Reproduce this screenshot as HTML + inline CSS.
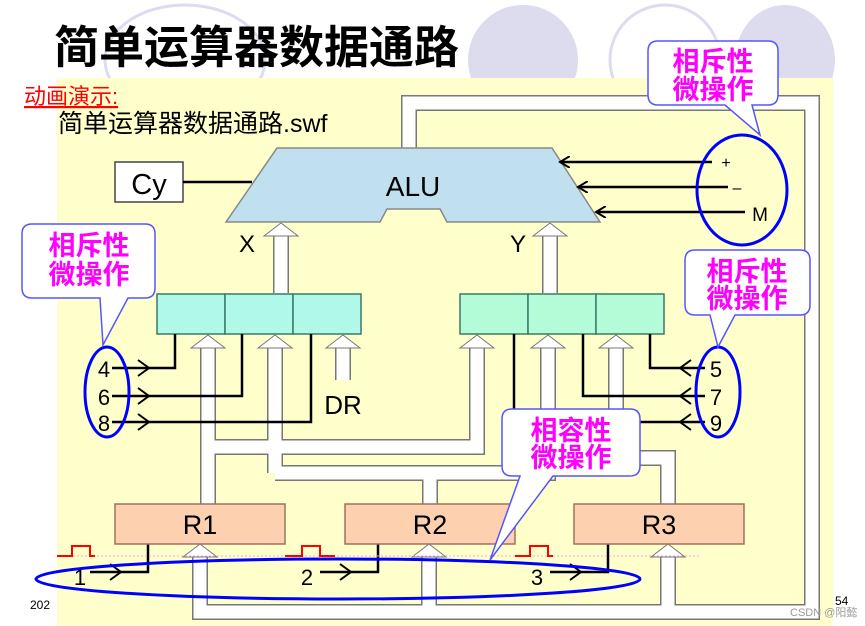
<!DOCTYPE html>
<html><head><meta charset="utf-8"><style>
html,body{margin:0;padding:0;background:#fff;}
svg{display:block;}
text{font-family:"Liberation Sans","Noto Sans CJK SC",sans-serif;}
</style></head><body>
<svg width="865" height="626" viewBox="0 0 865 626" xmlns="http://www.w3.org/2000/svg">
<defs>
<marker id="ah" markerWidth="12" markerHeight="12" refX="10" refY="6" orient="auto" markerUnits="userSpaceOnUse">
<path d="M0,0 L10,6 L0,12" fill="none" stroke="#000" stroke-width="2"/></marker>
</defs>
<ellipse cx="185" cy="60" rx="80" ry="55" fill="none" stroke="#dcdcf0" stroke-width="3"/>
<ellipse cx="523" cy="60" rx="55" ry="55" fill="#dcdcee"/>
<ellipse cx="665" cy="60" rx="55" ry="55" fill="none" stroke="#dcdcf0" stroke-width="3"/>
<ellipse cx="785" cy="60" rx="50" ry="55" fill="#dcdcee"/>
<rect x="57" y="78" width="776" height="548" fill="#ffffcc"/>
<text x="54" y="63" font-size="45" font-weight="bold" font-family="Noto Sans CJK SC,sans-serif">简单运算器数据通路</text>
<text x="24" y="104" font-size="22" fill="#f00" text-decoration="underline" font-family="Noto Sans CJK SC,sans-serif">动画演示:</text>
<text x="58" y="132" font-size="25" font-family="Liberation Sans,Noto Sans CJK SC,sans-serif">简单运算器数据通路.swf</text>

<g fill="none" stroke="#777" stroke-width="16" stroke-linejoin="miter">
<path d="M409,150 V103 H812 V612 H200 V556"/>
<path d="M429,612 V556"/><path d="M668,612 V556"/>
<path d="M208,504 V348"/><path d="M208,447 H477 V348"/>
<path d="M430,504 V473"/><path d="M275,473 H548 V348"/><path d="M275,473 V348"/>
<path d="M668,504 V458 H616 V348"/>
<path d="M281,293 V235"/><path d="M550,293 V235"/>
<path d="M343,380 V348"/>
</g>
<g fill="none" stroke="#fff" stroke-width="13" stroke-linejoin="miter">
<path d="M409,150 V103 H812 V612 H200 V556"/>
<path d="M429,612 V556"/><path d="M668,612 V556"/>
<path d="M208,504 V348"/><path d="M208,447 H477 V348"/>
<path d="M430,504 V473"/><path d="M275,473 H548 V348"/><path d="M275,473 V348"/>
<path d="M668,504 V458 H616 V348"/>
<path d="M281,293 V235"/><path d="M550,293 V235"/>
<path d="M343,380 V348"/>
</g>
<g fill="#fff" stroke="#777" stroke-width="1">
<path d="M183,557 L200,544 L217,557 Z"/><path d="M412,557 L429,544 L446,557 Z"/><path d="M651,557 L668,544 L685,557 Z"/>
<path d="M191,348 L208,335 L225,348 Z"/><path d="M258,348 L275,335 L292,348 Z"/><path d="M326,348 L343,335 L360,348 Z"/>
<path d="M460,348 L477,335 L494,348 Z"/><path d="M531,348 L548,335 L565,348 Z"/><path d="M599,348 L616,335 L633,348 Z"/>
<path d="M264,236 L281,223 L298,236 Z"/><path d="M533,236 L550,223 L567,236 Z"/>
</g>

<path d="M277,148 L552,148 L600,222 L447,222 L440,209 L387,209 L380,222 L226,222 Z" fill="#c0e0f0" stroke="#888" stroke-width="1.5"/>
<text x="413" y="196" font-size="28" text-anchor="middle">ALU</text>
<rect x="115" y="162" width="68" height="40" fill="#fff" stroke="#444" stroke-width="1.5"/>
<text x="149" y="194" font-size="29" text-anchor="middle">Cy</text>
<line x1="183" y1="182" x2="252" y2="182" stroke="#000" stroke-width="2.5"/>
<g stroke="#000" stroke-width="2.5">
<line x1="712" y1="162" x2="560" y2="162" marker-end="url(#ah)"/>
<line x1="728" y1="187" x2="578" y2="187" marker-end="url(#ah)"/>
<line x1="745" y1="212" x2="596" y2="212" marker-end="url(#ah)"/>
</g>
<text x="726" y="168" font-size="16" text-anchor="middle">+</text>
<text x="737" y="193" font-size="16" text-anchor="middle">–</text>
<text x="760" y="221" font-size="19" text-anchor="middle">M</text>
<ellipse cx="742" cy="190" rx="45" ry="55" fill="none" stroke="#00f" stroke-width="3"/>
<text x="247" y="252" font-size="24" text-anchor="middle">X</text>
<text x="518" y="252" font-size="24" text-anchor="middle">Y</text>

<g stroke="#3a7a6a" stroke-width="1.5">
<rect x="157" y="294" width="68" height="40" fill="#b0f8e8"/><rect x="225" y="294" width="68" height="40" fill="#b0f8e8"/><rect x="293" y="294" width="68" height="40" fill="#b0f8e8"/>
<rect x="460" y="294" width="68" height="40" fill="#b4fcd8"/><rect x="528" y="294" width="68" height="40" fill="#b4fcd8"/><rect x="596" y="294" width="68" height="40" fill="#b4fcd8"/>
</g>
<text x="343" y="414" font-size="26" text-anchor="middle">DR</text>

<g fill="none" stroke="#000" stroke-width="2.5">
<path d="M175,334 V368 H112"/><path d="M242,334 V396 H112"/><path d="M311,334 V422 H112"/>
<path d="M650,334 V368 H705"/><path d="M583,334 V396 H705"/><path d="M514,334 V422 H705"/>
<path d="M148,544 V572 H90"/><path d="M378,544 V572 H320"/><path d="M608,544 V572 H550"/>
</g>
<g fill="none" stroke="#000" stroke-width="2">
<path d="M138,360 L149,368 L138,376"/><path d="M138,388 L149,396 L138,404"/><path d="M138,414 L149,422 L138,430"/>
<path d="M691,360 L680,368 L691,376"/><path d="M691,388 L680,396 L691,404"/><path d="M691,414 L680,422 L691,430"/>
<path d="M110,564 L121,572 L110,580"/><path d="M340,564 L351,572 L340,580"/><path d="M570,564 L581,572 L570,580"/>
</g>
<g font-size="22" text-anchor="middle">
<text x="104" y="377">4</text><text x="104" y="405">6</text><text x="104" y="431">8</text>
<text x="716" y="377">5</text><text x="716" y="405">7</text><text x="716" y="431">9</text>
<text x="80" y="585">1</text><text x="307" y="585">2</text><text x="537" y="585">3</text>
</g>
<ellipse cx="107" cy="392" rx="22" ry="45" fill="none" stroke="#00f" stroke-width="3"/>
<ellipse cx="718" cy="392" rx="22" ry="45" fill="none" stroke="#00f" stroke-width="3"/>

<g fill="#fdd0b0" stroke="#a07060" stroke-width="1.5">
<rect x="115" y="504" width="170" height="40"/><rect x="345" y="504" width="170" height="40"/><rect x="574" y="504" width="170" height="40"/>
</g>
<g font-size="27" text-anchor="middle"><text x="200" y="534">R1</text><text x="430" y="534">R2</text><text x="659" y="534">R3</text></g>

<line x1="57" y1="556" x2="700" y2="556" stroke="#f0a0f0" stroke-width="1" stroke-dasharray="2,2"/>
<g fill="none" stroke="#f00" stroke-width="2">
<path d="M57,556 H72 V546 H90 V556 H95"/><path d="M285,556 H302 V546 H320 V556 H335"/><path d="M515,556 H530 V546 H548 V556 H553"/>
</g>
<ellipse cx="338" cy="579" rx="302" ry="20" fill="none" stroke="#00f" stroke-width="3"/>

<g fill="#fff" stroke="#55f" stroke-width="1.5">
<path d="M658,41 H768 Q778,41 778,51 V95 Q778,105 768,105 H752 L760,135 L725,105 H658 Q648,105 648,95 V51 Q648,41 658,41 Z"/>
<path d="M32,224 H145 Q155,224 155,234 V288 Q155,298 145,298 H128 L103,345 L100,298 H32 Q22,298 22,288 V234 Q22,224 32,224 Z"/>
<path d="M695,250 H800 Q810,250 810,260 V305 Q810,315 800,315 H735 L718,347 L710,315 H695 Q685,315 685,305 V260 Q685,250 695,250 Z"/>
<path d="M512,409 H630 Q640,409 640,419 V466 Q640,476 630,476 H553 L490,560 L520,476 H512 Q502,476 502,466 V419 Q502,409 512,409 Z"/>
</g>
<g font-size="27" font-weight="bold" fill="#f0f" text-anchor="middle" font-family="Noto Sans CJK SC,sans-serif">
<text x="713" y="71">相斥性</text><text x="713" y="99">微操作</text>
<text x="89" y="255">相斥性</text><text x="89" y="284">微操作</text>
<text x="747" y="281">相斥性</text><text x="747" y="308">微操作</text>
<text x="571" y="440">相容性</text><text x="571" y="467">微操作</text>
</g>
<text x="30" y="609" font-size="12">202</text>
<text x="835" y="605" font-size="12">54</text>
<text x="790" y="616" font-size="11" fill="#999">CSDN @阳懿</text>
</svg>
</body></html>
